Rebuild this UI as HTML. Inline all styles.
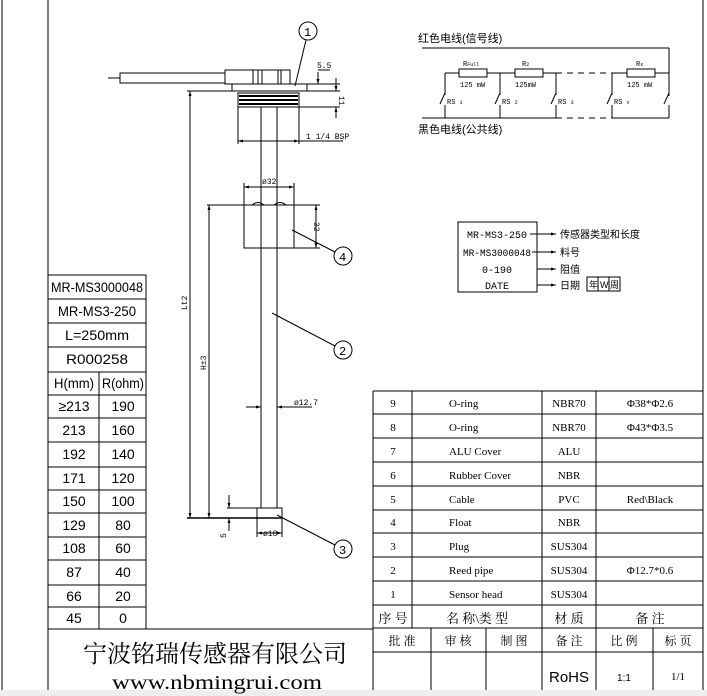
<!DOCTYPE html>
<html><head><meta charset="utf-8"><style>
html,body{margin:0;padding:0;background:#fff;}
svg{display:block;}
text{font-family:"Liberation Sans","Noto Sans CJK SC",sans-serif;fill:#000;}
.m text, text.m{font-family:"Liberation Mono","Noto Sans CJK SC",monospace;}
.s text, text.s{font-family:"Liberation Serif","Noto Serif CJK SC",serif;}
.n text{font-family:"Liberation Sans Narrow","Liberation Sans",sans-serif;}
</style></head><body>
<svg width="707" height="696" viewBox="0 0 707 696" xmlns="http://www.w3.org/2000/svg">
<defs>
<marker id="a" viewBox="0 0 10 10" refX="10" refY="5" markerWidth="7" markerHeight="5" orient="auto-start-reverse"><path d="M0,2 L10,5 L0,8z" fill="#000"/></marker>
</defs>
<rect x="0" y="690" width="707" height="6" fill="#eee"/>
<g stroke="#000" fill="none" stroke-width="1">
<line x1="2" y1="0" x2="2" y2="690"/>
<line x1="48" y1="0" x2="48" y2="690"/>
<line x1="703" y1="0" x2="703" y2="690"/>
<line x1="48" y1="629" x2="373" y2="629"/>
<rect x="48" y="275" width="98" height="354"/>
<line x1="48" y1="299" x2="146" y2="299"/><line x1="48" y1="323" x2="146" y2="323"/>
<line x1="48" y1="347" x2="146" y2="347"/><line x1="48" y1="372" x2="146" y2="372"/>
<line x1="48" y1="395" x2="146" y2="395"/><line x1="48" y1="418" x2="146" y2="418"/>
<line x1="48" y1="442" x2="146" y2="442"/><line x1="48" y1="467" x2="146" y2="467"/>
<line x1="48" y1="490" x2="146" y2="490"/><line x1="48" y1="513" x2="146" y2="513"/>
<line x1="48" y1="537" x2="146" y2="537"/><line x1="48" y1="560" x2="146" y2="560"/>
<line x1="48" y1="585" x2="146" y2="585"/><line x1="48" y1="607" x2="146" y2="607"/>
<line x1="99" y1="372" x2="99" y2="629"/>
<line x1="373" y1="391" x2="703" y2="391"/>
<line x1="373" y1="391" x2="373" y2="690"/>
<line x1="373" y1="414" x2="703" y2="414"/><line x1="373" y1="438" x2="703" y2="438"/>
<line x1="373" y1="462" x2="703" y2="462"/><line x1="373" y1="486" x2="703" y2="486"/>
<line x1="373" y1="510" x2="703" y2="510"/><line x1="373" y1="533" x2="703" y2="533"/>
<line x1="373" y1="557" x2="703" y2="557"/><line x1="373" y1="581" x2="703" y2="581"/>
<line x1="373" y1="605" x2="703" y2="605"/><line x1="373" y1="628" x2="703" y2="628"/>
<line x1="373" y1="652" x2="703" y2="652"/>
<line x1="412" y1="391" x2="412" y2="628"/>
<line x1="542" y1="391" x2="542" y2="690"/>
<line x1="596" y1="391" x2="596" y2="690"/>
<line x1="431" y1="628" x2="431" y2="690"/>
<line x1="486" y1="628" x2="486" y2="690"/>
<line x1="653" y1="628" x2="653" y2="690"/>

<line x1="108" y1="78" x2="120" y2="78"/>
<rect x="120" y="73" width="105" height="10"/>
<rect x="225" y="70" width="28" height="14"/>
<rect x="253" y="70" width="37" height="14"/>
<line x1="258" y1="70" x2="258" y2="84"/><line x1="262" y1="70" x2="262" y2="84"/>
<line x1="278" y1="70" x2="278" y2="84"/><line x1="281" y1="70" x2="281" y2="84"/>
<rect x="232" y="84" width="75" height="7"/>
<rect x="238" y="93" width="61" height="14"/>
<line x1="239" y1="96" x2="298" y2="96" stroke-width="2"/>
<line x1="239" y1="100" x2="298" y2="100" stroke-width="2"/>
<line x1="239" y1="104" x2="298" y2="104" stroke-width="2"/>
<line x1="238" y1="107" x2="238" y2="144"/><line x1="299" y1="107" x2="299" y2="144"/>
<line x1="238" y1="141" x2="299" y2="141" marker-start="url(#a)" marker-end="url(#a)"/>
<line x1="299" y1="141" x2="343" y2="141"/>
<line x1="261" y1="107" x2="261" y2="508"/><line x1="277" y1="107" x2="277" y2="508"/>
<rect x="244" y="205" width="50" height="43"/>
<path d="M252,205 q6,-5 12,0 M274,205 q6,-5 12,0"/>
<line x1="244" y1="183" x2="244" y2="205"/><line x1="294" y1="183" x2="294" y2="205"/>
<line x1="244" y1="187" x2="294" y2="187" marker-start="url(#a)" marker-end="url(#a)"/>
<line x1="294" y1="205" x2="320" y2="205"/><line x1="294" y1="248" x2="320" y2="248"/>
<line x1="316" y1="205" x2="316" y2="248" marker-start="url(#a)" marker-end="url(#a)"/>
<line x1="292" y1="230" x2="335" y2="252"/>
<circle cx="343" cy="256" r="9"/>
<line x1="272" y1="313" x2="335" y2="346"/>
<circle cx="343" cy="350" r="9"/>
<line x1="277" y1="515" x2="335" y2="545"/>
<circle cx="343" cy="549" r="9"/>
<line x1="295" y1="86" x2="306" y2="40"/>
<circle cx="308" cy="31" r="9"/>
<line x1="187" y1="91" x2="232" y2="91"/>
<line x1="190" y1="91" x2="190" y2="518" marker-start="url(#a)" marker-end="url(#a)"/>
<line x1="207" y1="205" x2="244" y2="205"/>
<line x1="209" y1="205" x2="209" y2="518" marker-start="url(#a)" marker-end="url(#a)"/>
<line x1="187" y1="518" x2="282" y2="518" stroke-width="1.5"/>
<rect x="257" y="508" width="25" height="10"/>
<line x1="227" y1="508" x2="257" y2="508"/>
<line x1="229" y1="495" x2="229" y2="508" marker-end="url(#a)"/>
<line x1="229" y1="531" x2="229" y2="518" marker-end="url(#a)"/>
<line x1="257" y1="518" x2="257" y2="537"/><line x1="282" y1="518" x2="282" y2="537"/>
<line x1="257" y1="533" x2="282" y2="533" marker-start="url(#a)" marker-end="url(#a)"/>
<line x1="246" y1="407" x2="261" y2="407" marker-end="url(#a)"/>
<line x1="292" y1="407" x2="277" y2="407" marker-end="url(#a)"/>
<line x1="292" y1="407" x2="312" y2="407"/>
<line x1="307" y1="84" x2="340" y2="84"/>
<line x1="307" y1="91" x2="340" y2="91"/>
<line x1="299" y1="107" x2="340" y2="107"/>
<line x1="318" y1="72" x2="318" y2="84" marker-end="url(#a)"/>
<line x1="318" y1="70" x2="330" y2="70"/>
<line x1="336" y1="78" x2="336" y2="91" marker-end="url(#a)"/>
<line x1="336" y1="118" x2="336" y2="107" marker-end="url(#a)"/>

<line x1="422" y1="48" x2="669" y2="48"/>
<line x1="669" y1="48" x2="669" y2="96"/>
<line x1="445" y1="73" x2="459" y2="73"/><rect x="459" y="69" width="28" height="8"/>
<line x1="487" y1="73" x2="515" y2="73"/><rect x="515" y="69" width="28" height="8"/>
<line x1="543" y1="73" x2="556" y2="73"/>
<line x1="556" y1="73" x2="612" y2="73" stroke-dasharray="6,5"/>
<line x1="612" y1="73" x2="627" y2="73"/><rect x="627" y="69" width="28" height="8"/>
<line x1="655" y1="73" x2="669" y2="73"/>
<line x1="422" y1="118" x2="556" y2="118"/>
<line x1="556" y1="118" x2="612" y2="118" stroke-dasharray="6,5"/>
<line x1="612" y1="118" x2="669" y2="118"/>
<line x1="445" y1="73" x2="445" y2="95"/><line x1="445" y1="105" x2="445" y2="118"/><line x1="440" y1="104" x2="445" y2="93"/>
<line x1="500" y1="73" x2="500" y2="95"/><line x1="500" y1="105" x2="500" y2="118"/><line x1="495" y1="104" x2="500" y2="93"/>
<line x1="556" y1="73" x2="556" y2="95"/><line x1="556" y1="105" x2="556" y2="118"/><line x1="551" y1="104" x2="556" y2="93"/>
<line x1="612" y1="73" x2="612" y2="95"/><line x1="612" y1="105" x2="612" y2="118"/><line x1="607" y1="104" x2="612" y2="93"/>
<line x1="669" y1="105" x2="669" y2="118"/><line x1="664" y1="104" x2="669" y2="93"/>
<rect x="458" y="222" width="79" height="70"/>
<line x1="530" y1="234" x2="556" y2="234" marker-end="url(#a)"/>
<line x1="532" y1="252" x2="556" y2="252" marker-end="url(#a)"/>
<line x1="537" y1="269" x2="556" y2="269" marker-end="url(#a)"/>
<line x1="537" y1="285" x2="556" y2="285" marker-end="url(#a)"/>
<rect x="587" y="277" width="33" height="14"/>
<line x1="598" y1="277" x2="598" y2="291"/><line x1="609" y1="277" x2="609" y2="291"/>
</g>

<g font-size="8" class="m">
<text x="304" y="36" font-size="12">1</text>
<text x="339" y="261" font-size="12">4</text>
<text x="339" y="355" font-size="12">2</text>
<text x="339" y="554" font-size="12">3</text>
<text x="317" y="68">5.5</text>
<text x="306" y="139">1 1/4 BSP</text>
<text x="262" y="184">ø32</text>
<text x="294" y="405">ø12.7</text>
<text x="263" y="536">ø18</text>
<text transform="translate(314,222) rotate(90)">32</text>
<text transform="translate(339,96) rotate(90)">11</text>
<text transform="translate(187,310) rotate(-90)">Lt2</text>
<text transform="translate(206,370) rotate(-90)">H±3</text>
<text transform="translate(226,538) rotate(-90)">5</text>
</g>
<g font-size="7" class="m">
<text x="463" y="66">R<tspan font-size="5">Full</tspan></text>
<text x="522" y="66">R<tspan font-size="5">2</tspan></text>
<text x="636" y="66">R<tspan font-size="5">x</tspan></text>
<text x="460" y="87">125 mW</text>
<text x="515" y="87">125mW</text>
<text x="627" y="87">125 mW</text>
<text x="447" y="104">RS <tspan font-size="5">1</tspan></text>
<text x="502" y="104">RS <tspan font-size="5">2</tspan></text>
<text x="558" y="104">RS <tspan font-size="5">3</tspan></text>
<text x="614" y="104">RS <tspan font-size="5">x</tspan></text>
</g>
<text x="418" y="42" font-size="11">红色电线(信号线)</text>
<text x="418" y="133" font-size="11">黑色电线(公共线)</text>
<g font-size="10" class="m" text-anchor="middle">
<text x="497" y="238" textLength="60" lengthAdjust="spacingAndGlyphs">MR-MS3-250</text>
<text x="497" y="256" textLength="68" lengthAdjust="spacingAndGlyphs">MR-MS3000048</text>
<text x="497" y="273">0-190</text>
<text x="497" y="289">DATE</text>
</g>
<g font-size="10">
<text x="560" y="238">传感器类型和长度</text>
<text x="560" y="256">料号</text>
<text x="560" y="273">阻值</text>
<text x="560" y="289">日期</text>
<text x="589" y="288" font-size="9">年</text><text x="600" y="288" font-size="9">W</text><text x="610" y="288" font-size="9">周</text>
</g>
<g font-size="14" text-anchor="middle" class="n">
<text x="97" y="292" textLength="92" lengthAdjust="spacingAndGlyphs">MR-MS3000048</text>
<text x="97" y="316" textLength="78" lengthAdjust="spacingAndGlyphs">MR-MS3-250</text>
<text x="97" y="340" textLength="64" lengthAdjust="spacingAndGlyphs">L=250mm</text>
<text x="97" y="364" textLength="62" lengthAdjust="spacingAndGlyphs">R000258</text>
<text x="74" y="388" textLength="40" lengthAdjust="spacingAndGlyphs">H(mm)</text><text x="123" y="388" textLength="42" lengthAdjust="spacingAndGlyphs">R(ohm)</text>
<text x="74" y="411">≥213</text><text x="123" y="411">190</text>
<text x="74" y="435">213</text><text x="123" y="435">160</text>
<text x="74" y="459">192</text><text x="123" y="459">140</text>
<text x="74" y="483">171</text><text x="123" y="483">120</text>
<text x="74" y="506">150</text><text x="123" y="506">100</text>
<text x="74" y="530">129</text><text x="123" y="530">80</text>
<text x="74" y="553">108</text><text x="123" y="553">60</text>
<text x="74" y="577">87</text><text x="123" y="577">40</text>
<text x="74" y="601">66</text><text x="123" y="601">20</text>
<text x="74" y="623">45</text><text x="123" y="623">0</text>
</g>
<g class="s">
<text x="215" y="662" font-size="24" text-anchor="middle">宁波铭瑞传感器有限公司</text>
<text x="217" y="689" font-size="20" text-anchor="middle" textLength="210" lengthAdjust="spacingAndGlyphs">www.nbmingrui.com</text>
</g>
<g font-size="11" class="s">
<g text-anchor="middle">
<text x="393" y="407">9</text><text x="393" y="431">8</text><text x="393" y="455">7</text><text x="393" y="479">6</text><text x="393" y="503">5</text><text x="393" y="526">4</text><text x="393" y="550">3</text><text x="393" y="574">2</text><text x="393" y="598">1</text>
<text x="569" y="407">NBR70</text><text x="569" y="431">NBR70</text><text x="569" y="455">ALU</text><text x="569" y="479">NBR</text><text x="569" y="503">PVC</text><text x="569" y="526">NBR</text><text x="569" y="550">SUS304</text><text x="569" y="574">SUS304</text><text x="569" y="598">SUS304</text>
<text x="650" y="407">Φ38*Φ2.6</text><text x="650" y="431">Φ43*Φ3.5</text><text x="650" y="503">Red\Black</text><text x="650" y="574">Φ12.7*0.6</text>
<text x="393" y="623" font-size="13">序 号</text>
<text x="477" y="623" font-size="13">名 称\类 型</text>
<text x="569" y="623" font-size="13">材 质</text>
<text x="650" y="623" font-size="13">备 注</text>
<text x="402" y="645" font-size="12">批 准</text>
<text x="458" y="645" font-size="12">审 核</text>
<text x="514" y="645" font-size="12">制 图</text>
<text x="569" y="645" font-size="12">备 注</text>
<text x="624" y="645" font-size="12">比 例</text>
<text x="678" y="645" font-size="12">标 页</text>
<text x="678" y="680">1/1</text>
</g>
<text x="449" y="407">O-ring</text><text x="449" y="431">O-ring</text><text x="449" y="455">ALU Cover</text><text x="449" y="479">Rubber Cover</text><text x="449" y="503">Cable</text><text x="449" y="526">Float</text><text x="449" y="550">Plug</text><text x="449" y="574">Reed pipe</text><text x="449" y="598">Sensor head</text>
</g>
<text x="569" y="682" font-size="15" text-anchor="middle">RoHS</text>
<text x="624" y="681" font-size="10" text-anchor="middle">1:1</text>
</svg>
</body></html>
